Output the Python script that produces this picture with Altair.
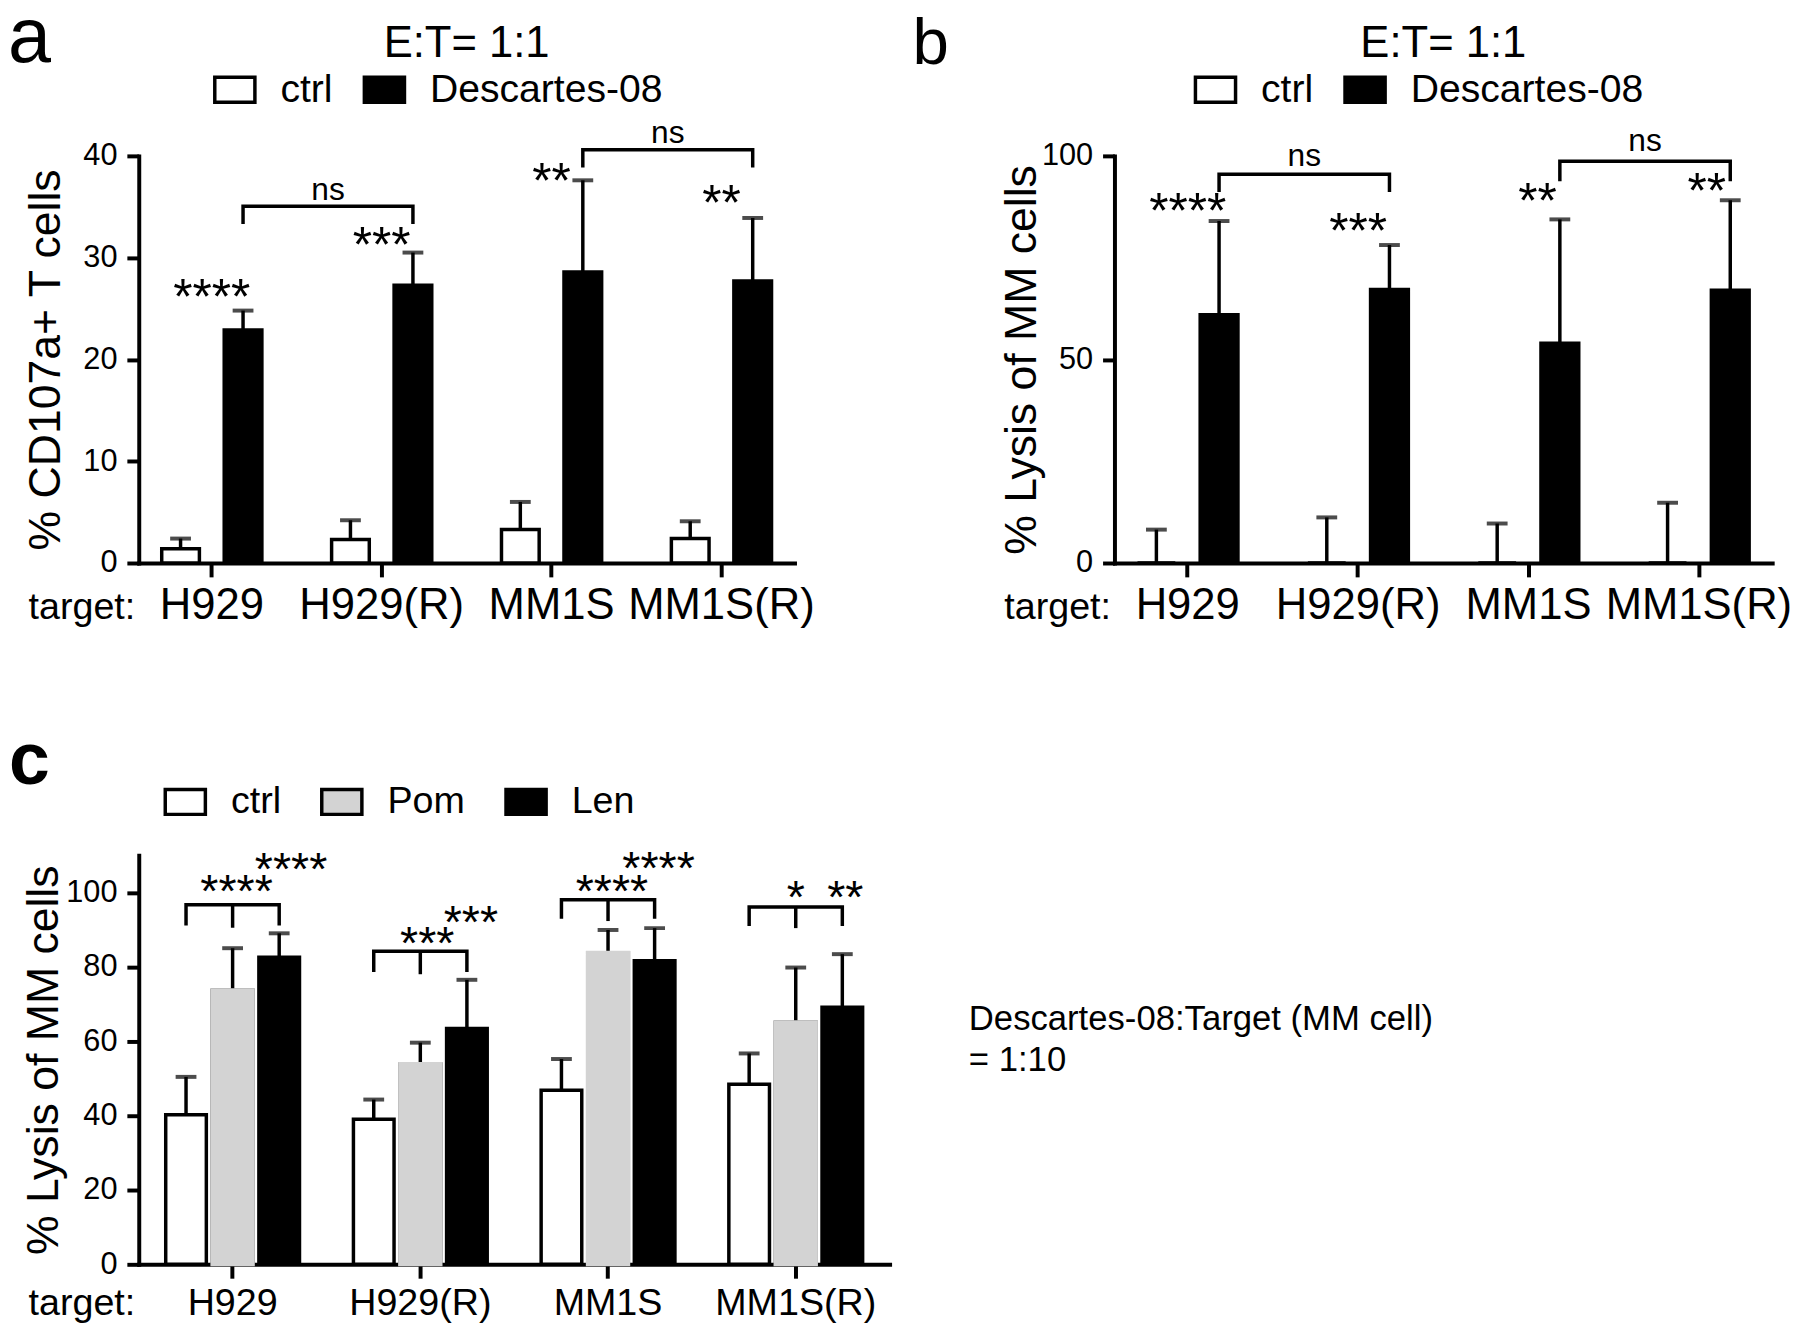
import altair as alt
import pandas as pd

FONT = "Liberation Sans"
BLACK = "#000000"
GRAY = "#d3d3d3"

targets = ["H929", "H929(R)", "MM1S", "MM1S(R)"]

# ---------------- panel a : % CD107a+ T cells ----------------
a_series = ["ctrl", "Descartes-08"]
a_ctrl_mean = [1.4, 2.3, 3.3, 2.4]
a_ctrl_sd = [1.0, 1.9, 2.7, 1.7]
a_des_mean = [22.9, 27.3, 28.6, 27.7]
a_des_sd = [1.9, 3.2, 9.0, 6.2]
a_star_text = ["****", "***", "**", "**"]
a_star_y = [26.4, 31.5, 37.8, 35.6]
a_star_dx = [0, 0, 0, 0]
a_br_left = ["H929", "MM1S"]
a_br_right = ["H929(R)", "MM1S(R)"]
a_br_top = [35.05, 40.6]
a_br_foot = [33.3, 38.85]
a_br_label = ["ns", "ns"]
a_br_label_y = [35.7, 41.3]

# ---------------- panel b : % Lysis of MM cells ----------------
b_series = ["ctrl", "Descartes-08"]
b_ctrl_mean = [0.0, 0.0, 0.0, 0.0]
b_ctrl_sd = [8.2, 11.2, 9.7, 14.8]
b_des_mean = [61.0, 67.2, 54.0, 67.0]
b_des_sd = [23.0, 10.9, 30.4, 22.1]
b_star_text = ["****", "***", "**", "**"]
b_star_y = [87.1, 82.2, 89.5, 92.0]
b_star_dx = [0, 0, 9, 8]
b_br_left = ["H929", "MM1S"]
b_br_right = ["H929(R)", "MM1S(R)"]
b_br_top = [95.5, 98.7]
b_br_foot = [91.1, 93.8]
b_br_label = ["ns", "ns"]
b_br_label_y = [97.6, 101.2]

# ---------------- panel c : % Lysis of MM cells (ctrl / Pom / Len) ----------------
c_series = ["ctrl", "Pom", "Len"]
c_ctrl_mean = [40.2, 39.0, 46.8, 48.4]
c_ctrl_sd = [10.2, 5.3, 8.4, 8.3]
c_pom_mean = [73.7, 53.9, 83.8, 65.1]
c_pom_sd = [11.3, 5.7, 6.1, 14.7]
c_len_mean = [82.6, 63.4, 81.6, 69.1]
c_len_sd = [6.4, 13.1, 8.8, 14.3]
c_br_top = [96.7, 84.2, 98.0, 96.1]
c_br_foot = [91.1, 78.6, 92.9, 91.0]
c_star_pom = ["****", "***", "****", "*"]
c_star_pom_y = [101.2, 87.1, 101.2, 99.6]
c_star_pom_dx = [4, 7, 4, 0]
c_star_len = ["****", "***", "****", "**"]
c_star_len_y = [107.0, 92.9, 107.3, 99.6]
c_star_len_dx = [12, 4, 4, 3]

SYMBOL = "M-1,-0.62H1V0.62H-1Z"


def long_bars(series, means, sds):
    rows = []
    for s, ms, ss in zip(series, means, sds):
        for t, m, sd in zip(targets, ms, ss):
            rows.append(dict(target=t, series=s, mean=m, top=round(m + sd, 3)))
    return pd.DataFrame(rows)


def make_panel(letter, letter_pos, letter_bold, letter_size, bars, series, fills,
               ymax, yticks, ytitle, width, height, xpad, xoffpad,
               xlab_size, xlab_pad, target_y, ytitle_x,
               legend_x, legend_y, legend_colpad, legend_fs, title_text, extra,
               unstroked=None):
    x_axis = alt.Axis(
        title="target:", titleX=-4, titleY=target_y, titleAlign="right",
        titleBaseline="alphabetic", titleFont=FONT, titleFontSize=38,
        titleFontWeight="normal", titleColor=BLACK,
        labelFont=FONT, labelFontSize=xlab_size, labelColor=BLACK,
        labelBaseline="alphabetic", labelPadding=xlab_pad, labelAngle=0,
        labelOverlap=False, labelLimit=0, labelFlush=False,
        tickSize=14, tickWidth=4, tickColor=BLACK,
        domainWidth=4, domainColor=BLACK, domainCap="square", grid=False)
    y_axis = alt.Axis(
        title=ytitle, values=yticks, titleX=ytitle_x, titleY=height / 2,
        titleAngle=270, titleAlign="center", titleBaseline="alphabetic",
        titleFont=FONT, titleFontSize=45, titleFontWeight="normal", titleColor=BLACK,
        labelFont=FONT, labelFontSize=31, labelColor=BLACK, labelPadding=10,
        tickSize=12, tickWidth=4, tickColor=BLACK,
        domainWidth=4, domainColor=BLACK, domainCap="square", grid=False)
    xscale = alt.Scale(domain=targets, paddingInner=xpad[0], paddingOuter=xpad[1])
    yscale = alt.Scale(domain=[0, ymax], nice=False, zero=True)

    def X():
        return alt.X("target:N", sort=targets, scale=xscale, axis=x_axis)

    def XO():
        return alt.XOffset("series:N", sort=series,
                           scale=alt.Scale(domain=series, paddingInner=xoffpad[0],
                                           paddingOuter=xoffpad[1]))

    def Y(field):
        return alt.Y(field, type="quantitative", scale=yscale, axis=y_axis)

    base = alt.Chart(bars)
    bar = base.mark_bar(stroke=BLACK, strokeWidth=3.5).encode(
        x=X(), xOffset=XO(), y=Y("mean"),
        fill=alt.Fill("series:N", sort=series,
                      scale=alt.Scale(domain=series, range=fills),
                      legend=alt.Legend(
                          orient="none", legendX=legend_x, legendY=legend_y,
                          direction="horizontal", title=None, padding=0,
                          symbolType=SYMBOL, symbolSize=1640,
                          symbolStrokeColor=BLACK, symbolStrokeWidth=3.5,
                          symbolOpacity=1,
                          labelFont=FONT, labelFontSize=legend_fs, labelColor=BLACK,
                          labelOffset=24, columnPadding=legend_colpad,
                          labelLimit=0)),
    )
    err = base.mark_rule(strokeWidth=3.5, color=BLACK).encode(
        x=X(), xOffset=XO(), y=Y("mean"), y2="top:Q")
    cap = base.mark_tick(thickness=4, size=21, color=BLACK).encode(
        x=X(), xOffset=XO(), y=Y("top"))

    layers = [err, cap, bar]
    if unstroked is not None:
        # series drawn without a black outline (Pom): same-colour outline on top
        sub = bars[bars.series == unstroked[0]]
        layers.append(alt.Chart(sub).mark_bar(
            fill=unstroked[1], stroke=unstroked[1], strokeWidth=3.8).encode(
            x=X(), xOffset=XO(), y=Y("mean")))
    for kind, df, props in extra:
        if kind == "bracket":
            layers.append(alt.Chart(df).mark_line(
                strokeWidth=3.5, color=BLACK, strokeJoin="miter", strokeCap="butt").encode(
                x=X(), xOffset=XO(), y=Y("y"), detail="bid:N", order="seq:Q"))
        elif kind == "leg":
            layers.append(alt.Chart(df).mark_rule(strokeWidth=3.5, color=BLACK).encode(
                x=X(), xOffset=XO(), y=Y("y"), y2="y2:Q"))
        elif kind == "text_off":
            layers.append(alt.Chart(df).mark_text(
                font=FONT, color=BLACK, align="center", **props).encode(
                x=X(), xOffset=XO(), y=Y("y"), text="text:N"))
        elif kind == "text_grp":
            layers.append(alt.Chart(df).mark_text(
                font=FONT, color=BLACK, align="center", **props).encode(
                x=X(), y=Y("y"), text="text:N"))

    if title_text:
        layers.append(alt.Chart(pd.DataFrame({"t": [title_text]})).mark_text(
            font=FONT, fontSize=44, color=BLACK, align="center", baseline="alphabetic").encode(
            x=alt.value(width / 2), y=alt.value(-100), text="t:N"))
    layers.append(alt.Chart(pd.DataFrame({"t": [letter]})).mark_text(
        font=FONT, fontSize=letter_size, color=BLACK, align="left", baseline="alphabetic",
        fontWeight="bold" if letter_bold else "normal").encode(
        x=alt.value(letter_pos[0]), y=alt.value(letter_pos[1]), text="t:N"))

    return alt.layer(*layers).properties(width=width, height=height)


def ab_extras(series, star_text, star_y, star_dx, br_left, br_right, br_top, br_foot,
              br_label, br_label_y, ns_dx):
    ex = []
    s_df = pd.DataFrame(dict(target=targets, y=star_y, text=star_text, dx=star_dx))
    for d in sorted(set(star_dx)):
        sub = s_df[s_df.dx == d]
        ex.append(("text_grp", sub, dict(fontSize=50, baseline="alphabetic", dy=20, dx=d)))
    rows = []
    for i, (l, r, t, f) in enumerate(zip(br_left, br_right, br_top, br_foot)):
        rows += [dict(bid=i, seq=0, target=l, series=series[1], y=f),
                 dict(bid=i, seq=1, target=l, series=series[1], y=t),
                 dict(bid=i, seq=2, target=r, series=series[1], y=t),
                 dict(bid=i, seq=3, target=r, series=series[1], y=f)]
    ex.append(("bracket", pd.DataFrame(rows), {}))
    ns = pd.DataFrame(dict(target=br_left, series=[series[1]] * len(br_left),
                           y=br_label_y, text=br_label))
    ex.append(("text_off", ns, dict(fontSize=32, baseline="alphabetic", dx=ns_dx)))
    return ex


# ---- panel a
A_W, A_H = 662, 411
bars_a = long_bars(a_series, [a_ctrl_mean, a_des_mean], [a_ctrl_sd, a_des_sd])
ex_a = ab_extras(a_series, a_star_text, a_star_y, a_star_dx, a_br_left, a_br_right,
                 a_br_top, a_br_foot, a_br_label, a_br_label_y, A_W / 3.86 / 2)
panel_a = make_panel("a", (-132, -95), False, 78, bars_a, a_series, ["white", BLACK],
                     40, [0, 10, 20, 30, 40], "% CD107a+ T cells", A_W, A_H,
                     (0.2, 0.03), (0.397, 0.286), 44, 42, 56, -80,
                     75, -89, 24, 39.5, "E:T= 1:1", ex_a)

# ---- panel b
B_W, B_H = 664, 411
bars_b = long_bars(b_series, [b_ctrl_mean, b_des_mean], [b_ctrl_sd, b_des_sd])
ex_b = ab_extras(b_series, b_star_text, b_star_y, b_star_dx, b_br_left, b_br_right,
                 b_br_top, b_br_foot, b_br_label, b_br_label_y, B_W / 3.86 / 2)
panel_b = make_panel("b", (-204, -93), False, 66, bars_b, b_series, ["white", BLACK],
                     100, [0, 50, 100], "% Lysis of MM cells", B_W, B_H,
                     (0.2, 0.03), (0.397, 0.286), 44, 42, 56, -80,
                     80, -89, 24, 39.5, "E:T= 1:1", ex_b)

# ---- panel c
C_W, C_H = 758, 413
bars_c = long_bars(c_series, [c_ctrl_mean, c_pom_mean, c_len_mean],
                   [c_ctrl_sd, c_pom_sd, c_len_sd])
ex_c = []
br_rows, leg_rows = [], []
for i, (t, top, foot) in enumerate(zip(targets, c_br_top, c_br_foot)):
    br_rows += [dict(bid=i, seq=0, target=t, series="ctrl", y=foot),
                dict(bid=i, seq=1, target=t, series="ctrl", y=top),
                dict(bid=i, seq=2, target=t, series="Len", y=top),
                dict(bid=i, seq=3, target=t, series="Len", y=foot)]
    leg_rows.append(dict(target=t, series="Pom", y=top, y2=foot - 0.6))
ex_c.append(("bracket", pd.DataFrame(br_rows), {}))
ex_c.append(("leg", pd.DataFrame(leg_rows), {}))
star_rows = []
for t, s, y, d in zip(targets, c_star_pom, c_star_pom_y, c_star_pom_dx):
    star_rows.append(dict(target=t, series="Pom", y=y, text=s, dx=d))
for t, s, y, d in zip(targets, c_star_len, c_star_len_y, c_star_len_dx):
    star_rows.append(dict(target=t, series="Len", y=y, text=s, dx=d))
star_df = pd.DataFrame(star_rows)
for d in sorted(star_df.dx.unique()):
    ex_c.append(("text_off", star_df[star_df.dx == d],
                 dict(fontSize=47, baseline="alphabetic", dy=19, dx=int(d))))
panel_c = make_panel("c", (-131, -72), True, 74, bars_c, c_series, ["white", GRAY, BLACK],
                     110, [0, 20, 40, 60, 80, 100],
                     "% Lysis of MM cells", C_W, C_H, (0.26, 0.13), (0.128, 0.055),
                     38, 37, 51, -82, 25, -76, 33, 38, None, ex_c, unstroked=("Pom", GRAY))
note = alt.Chart(pd.DataFrame({"t": ["Descartes-08:Target (MM cell)\n= 1:10"]})).mark_text(
    font=FONT, fontSize=35, color=BLACK, align="left", baseline="alphabetic",
    lineBreak="\n", lineHeight=42).encode(x=alt.value(838), y=alt.value(176), text="t:N")
panel_c = alt.layer(panel_c, note)

chart = alt.concat(panel_a, panel_b, panel_c, columns=2,
                   spacing={"row": 295, "column": 227}, bounds="flush").resolve_scale(
    x="independent", y="independent", fill="independent", stroke="independent",
    xOffset="independent").resolve_legend(fill="independent", stroke="independent")

chart = chart.properties(padding={"top": -14, "left": 0, "right": 0, "bottom": 0},
                         background="white").configure_view(stroke=None)

chart.save("out.html", embed_options={"renderer": "svg", "actions": False})
